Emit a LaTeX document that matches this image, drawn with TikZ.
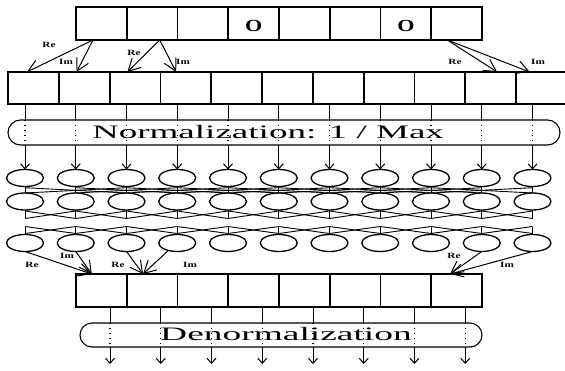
\documentclass[tikz,border=0pt]{standalone}
\usepackage{fontspec}
\setmainfont{Liberation Serif}
\usetikzlibrary{arrows.meta,shapes.misc,shapes.geometric,calc}

\begin{document}
\begin{tikzpicture}[x=1pt,y=-1pt,line width=1pt,
  cell/.style={draw,line width=1.8pt,minimum width=50.75pt,minimum height=33pt,
    inner sep=0pt,outer sep=0pt,anchor=north west},
  capsule/.style={draw,line width=1.1pt,rounded rectangle,inner sep=0pt,outer sep=0pt},
  bfly/.style={draw,ellipse,line width=1.3pt,minimum width=37pt,minimum height=17pt,
    inner sep=0pt,outer sep=0pt},
  wire/.style={line width=0.9pt},
  dotwire/.style={line width=1.1pt,dash pattern=on 1pt off 4pt},
  bigarr/.style={line width=1pt,-{Straight Barb[length=12pt,width=13pt,line width=1pt]}},
  smallarr/.style={line width=1pt,-{Straight Barb[length=5pt,width=9pt,line width=1pt]}},
  tag/.style={font=\fontsize{8}{8}\selectfont\bfseries,inner sep=0pt},
  bigtext/.style={font=\fontsize{19}{19}\selectfont,inner sep=0pt}]
\useasboundingbox (0,0) rectangle (565,370);
\clip (0,0) rectangle (565,370);

% input frame (8 cells, two of them zero)
\foreach \i in {1,...,8}
  \node[cell] (t\i) at ({76+(\i-1)*50.75},7) {};
\node[font=\fontsize{17}{17}\selectfont\bfseries] (z1) at ($(t4.center)+(0,2)$) {\scalebox{1.3}[1]{O}};
\node[font=\fontsize{17}{17}\selectfont\bfseries] (z2) at ($(t7.center)+(0,2)$) {\scalebox{1.3}[1]{O}};

% split real / imaginary parts
\foreach \i in {1,...,11}
  \node[cell,minimum width=50.8pt,minimum height=32pt] (r\i) at ({8+(\i-1)*50.8},72) {};

\coordinate (s1) at ($(t1.south west)!0.335!(t1.south east)$);
\coordinate (s2) at ($(t2.south west)!0.65!(t2.south east)$);
\coordinate (s8) at ($(t8.south west)!0.315!(t8.south east)$);
\coordinate (d1) at ($(r1.north west)!0.37!(r1.north east)$);
\coordinate (d2) at ($(r2.north west)!0.35!(r2.north east)$);
\coordinate (d3) at ($(r3.north west)!0.35!(r3.north east)$);
\coordinate (d4) at ($(r4.north west)!0.31!(r4.north east)$);
\coordinate (d10) at ($(r10.north west)!0.63!(r10.north east)$);
\coordinate (d11) at ($(r11.north west)!0.27!(r11.north east)$);
\draw[bigarr] (s1) -- (d1);
\draw[bigarr] (s1) -- (d2);
\draw[bigarr] (s2) -- (d3);
\draw[bigarr] (s2) -- (d4);
\draw[bigarr] (s8) -- (d10);
\draw[bigarr] (s8) -- (d11);
\node[tag] (l1) at (49,45) {\scalebox{1.4}[1]{Re}};
\node[tag] (l2) at (66,62) {\scalebox{1.4}[1]{Im}};
\node[tag] (l3) at (134,53) {\scalebox{1.4}[1]{Re}};
\node[tag] (l4) at (183,62) {\scalebox{1.4}[1]{Im}};
\node[tag] (l5) at (455,62) {\scalebox{1.4}[1]{Re}};
\node[tag] (l6) at (538,62) {\scalebox{1.4}[1]{Im}};

% normalization stage
\node[capsule,minimum width=552pt,minimum height=25pt] (norm) at (284,132.5) {};
\node[bigtext] (normtext) at (268,132) {\scalebox{1.95}[1]{Normalization: 1 / Max}};

% butterfly nodes
\foreach \i in {1,...,11} {
  \node[bfly] (ea\i) at ({25+(\i-1)*50.75},178) {};
  \node[bfly] (eb\i) at ({25+(\i-1)*50.75},201.5) {};
  \node[bfly] (ec\i) at ({25+(\i-1)*50.75},243) {};
}
\foreach \i in {1,...,11} {
  \draw[wire] (ea\i |- r\i.south) -- (ea\i |- norm.north);
  \draw[dotwire] (ea\i |- norm.north) -- (ea\i |- norm.south);
  \draw[smallarr] (ea\i |- norm.south) -- (ea\i.north);
  % stubs of the three butterfly stages
  \draw[wire] (ea\i.south) -- (eb\i.north);
  \draw[wire] (eb\i.south) -- ++(0,8.5);
  \draw[wire] (ec\i.north) -- ++(0,-8);
}
% stage 1 (stride 2)
\foreach \i in {1,...,9} {
  \pgfmathtruncatemacro\j{\i+2}
  \draw[wire] ($(ea\i.south)+(0,1.2)$) -- (eb\j.north);
  \draw[wire] ($(ea\j.south)+(0,1.2)$) -- (eb\i.north);
}
% stage 2 (stride 1)
\foreach \i in {1,...,10} {
  \pgfmathtruncatemacro\j{\i+1}
  \draw[wire] ($(eb\i.south)+(0,1)$) -- ($(eb\j.south)+(0,8.5)$);
  \draw[wire] ($(eb\j.south)+(0,1)$) -- ($(eb\i.south)+(0,8.5)$);
}
% stage 3 (stride 1)
\foreach \i in {1,...,10} {
  \pgfmathtruncatemacro\j{\i+1}
  \draw[wire] ($(ec\i.north)+(0,-8)$) -- ($(ec\j.north)+(0,-1)$);
  \draw[wire] ($(ec\j.north)+(0,-8)$) -- ($(ec\i.north)+(0,-1)$);
}

% output frame
\foreach \i in {1,...,8}
  \node[cell] (o\i) at ({76+(\i-1)*50.75},274) {};
\coordinate (u1) at ($(o1.north west)!0.31!(o1.north east)$);
\coordinate (u2) at ($(o2.north west)!0.32!(o2.north east)$);
\coordinate (u8) at ($(o8.north west)!0.37!(o8.north east)$);
\draw[bigarr] (ec1.south) -- (u1);
\draw[bigarr] (ec2.south) -- (u1);
\draw[bigarr] (ec3.south) -- (u2);
\draw[bigarr] (ec4.220) -- (u2);
\draw[bigarr] (ec10.south) -- (u8);
\draw[bigarr] (ec11.south) -- (u8);
\node[tag] (m1) at (32,265) {\scalebox{1.4}[1]{Re}};
\node[tag] (m2) at (67,256) {\scalebox{1.4}[1]{Im}};
\node[tag] (m3) at (118,265) {\scalebox{1.4}[1]{Re}};
\node[tag] (m4) at (190,265) {\scalebox{1.4}[1]{Im}};
\node[tag] (m5) at (454,256) {\scalebox{1.4}[1]{Re}};
\node[tag] (m6) at (507,265) {\scalebox{1.4}[1]{Im}};

% denormalization stage
\node[capsule,minimum width=402pt,minimum height=24pt] (denorm) at (281,335) {};
\node[bigtext] (denormtext) at (286,334) {\scalebox{1.97}[1]{Denormalization}};
\foreach \i in {1,...,8} {
  \coordinate (ob\i) at ($(o\i.south west)!0.67!(o\i.south east)$);
  \coordinate (out\i) at ($(ob\i)+(0,57)$);
  \draw[wire] (ob\i) -- (ob\i |- denorm.north);
  \draw[dotwire] (ob\i |- denorm.north) -- (ob\i |- denorm.south);
  \draw[smallarr] (ob\i |- denorm.south) -- (out\i);
}
\end{tikzpicture}
\end{document}
